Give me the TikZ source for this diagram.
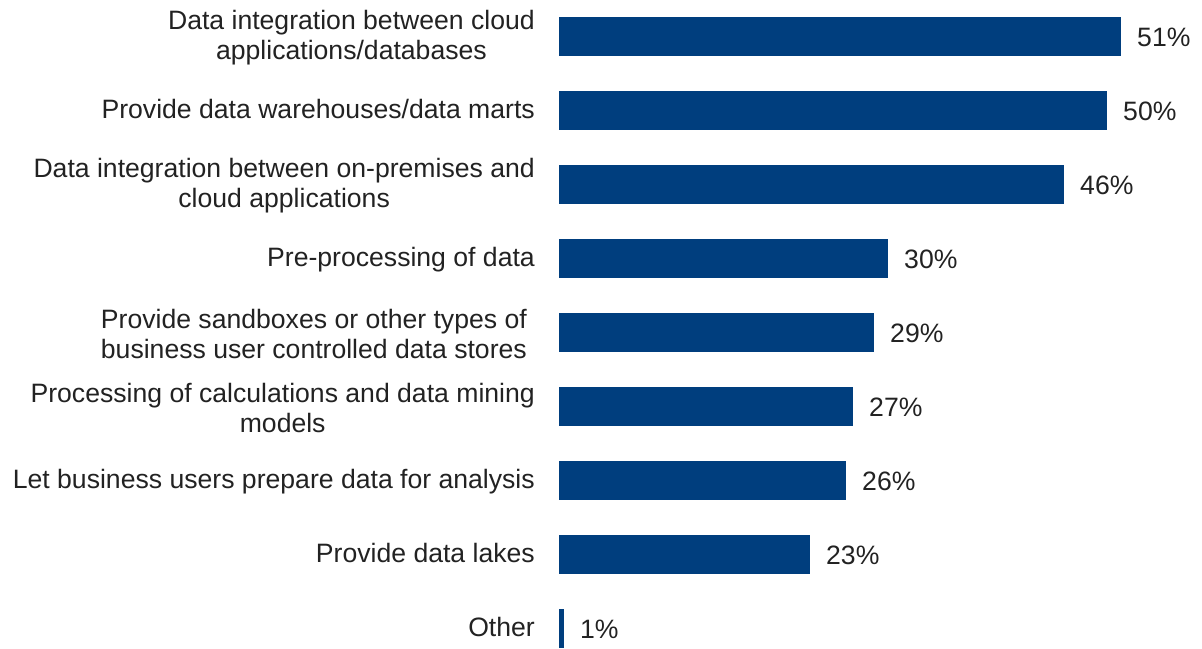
\documentclass[tikz,border=0pt]{standalone}
\usepackage{fontspec}
\setmainfont{Liberation Sans}
\definecolor{barblue}{HTML}{003E7E}
\definecolor{txt}{HTML}{222222}
\begin{document}
\begin{tikzpicture}[x=1pt,y=-1pt,
  bar/.style={fill=barblue, draw=none, minimum height=39pt, inner sep=0pt, outer sep=0pt, anchor=west},
  cat/.style={anchor=east, align=center, text=txt, font=\fontsize{26.6pt}{30pt}\selectfont, inner sep=0pt},
  one/.style={text height=20.5pt, text depth=4.5pt},
  pct/.style={anchor=west, text=txt, font=\fontsize{26.6pt}{30pt}\selectfont, inner sep=0pt, xshift=16pt, text height=22pt, text depth=2pt}]
\useasboundingbox (0,0) rectangle (1202,648);
% bars
\node[bar, minimum width=562pt] (b1) at (559,36.5) {};
\node[bar, minimum width=548pt] (b2) at (559,110.5) {};
\node[bar, minimum width=505pt] (b3) at (559,184.5) {};
\node[bar, minimum width=329pt] (b4) at (559,258.5) {};
\node[bar, minimum width=315pt] (b5) at (559,332.5) {};
\node[bar, minimum width=294pt] (b6) at (559,406.5) {};
\node[bar, minimum width=287pt] (b7) at (559,480.5) {};
\node[bar, minimum width=251pt] (b8) at (559,554.5) {};
\node[bar, minimum width=5pt] (b9) at (559,628.5) {};
% values
\node[pct] (v1) at (b1.east) {51\%};
\node[pct] (v2) at (b2.east) {50\%};
\node[pct] (v3) at (b3.east) {46\%};
\node[pct] (v4) at (b4.east) {30\%};
\node[pct] (v5) at (b5.east) {29\%};
\node[pct] (v6) at (b6.east) {27\%};
\node[pct] (v7) at (b7.east) {26\%};
\node[pct] (v8) at (b8.east) {23\%};
\node[pct] (v9) at (b9.east) {1\%};
% categories
\node[cat] (c1) at (535,37.5) {Data integration between cloud\\applications/databases};
\node[cat, one] (c2) at (535,110.5) {Provide data warehouses/data marts};
\node[cat] (c3) at (535,185.5) {Data integration between on-premises and\\cloud applications};
\node[cat, one] (c4) at (535,258.5) {Pre-processing of data};
\node[cat] (c5) at (527,333.5) {Provide sandboxes or other types of\\business user controlled data stores};
\node[cat] (c6) at (535,407.5) {Processing of calculations and data mining\\models};
\node[cat, one] (c7) at (535,480.5) {Let business users prepare data for analysis};
\node[cat, one] (c8) at (535,554.5) {Provide data lakes};
\node[cat, one] (c9) at (535,628.5) {Other};
\end{tikzpicture}
\end{document}
